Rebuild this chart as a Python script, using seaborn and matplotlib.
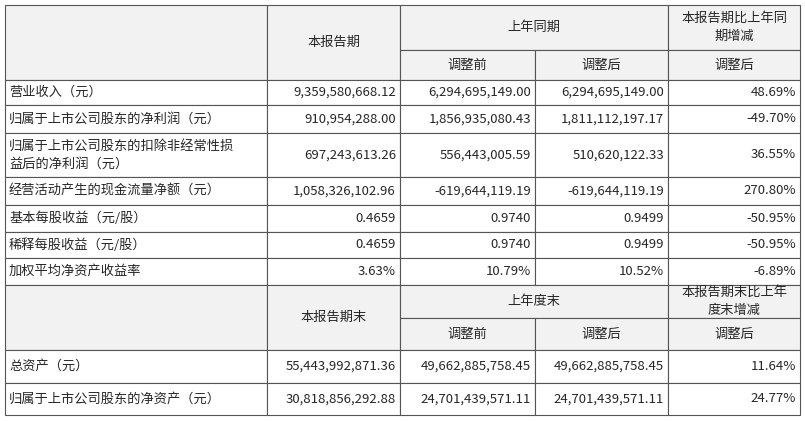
import matplotlib.pyplot as plt
import seaborn as sns
from matplotlib.patches import Rectangle

sns.set_theme(style="white", font="Noto Sans CJK SC")

row_labels = ["营业收入（元）", "归属于上市公司股东的净利润（元）",
              "归属于上市公司股东的扣除非经常性损\n益后的净利润（元）",
              "经营活动产生的现金流量净额（元）", "基本每股收益（元/股）",
              "稀释每股收益（元/股）", "加权平均净资产收益率"]
current = ["9,359,580,668.12", "910,954,288.00", "697,243,613.26", "1,058,326,102.96",
           "0.4659", "0.4659", "3.63%"]
prev_before = ["6,294,695,149.00", "1,856,935,080.43", "556,443,005.59", "-619,644,119.19",
               "0.9740", "0.9740", "10.79%"]
prev_after = ["6,294,695,149.00", "1,811,112,197.17", "510,620,122.33", "-619,644,119.19",
              "0.9499", "0.9499", "10.52%"]
change = ["48.69%", "-49.70%", "36.55%", "270.80%", "-50.95%", "-50.95%", "-6.89%"]

row_labels2 = ["总资产（元）", "归属于上市公司股东的净资产（元）"]
current2 = ["55,443,992,871.36", "30,818,856,292.88"]
prev_before2 = ["49,662,885,758.45", "24,701,439,571.11"]
prev_after2 = ["49,662,885,758.45", "24,701,439,571.11"]
change2 = ["11.64%", "24.77%"]

xs = [5, 267, 400, 535, 668, 800]
rows1 = [80, 105, 133, 177, 205, 232, 258, 285]
rows2 = [350, 383, 415]
gray = "#f2f2f2"
fs = 9.5

fig = plt.figure(figsize=(8.05, 4.21), dpi=100)
ax = fig.add_axes([0, 0, 1, 1])
ax.set_xlim(0, 805)
ax.set_ylim(421, 0)
ax.axis("off")


def cell(x0, y0, x1, y1, text="", align="center", fill="white"):
    ax.add_patch(Rectangle((x0, y0), x1 - x0, y1 - y0, facecolor=fill,
                           edgecolor="#555555", lw=0.8))
    if not text:
        return
    if align == "left":
        ax.text(x0 + 4, (y0 + y1) / 2, text, ha="left", va="center", fontsize=fs, linespacing=1.5)
    elif align == "right":
        ax.text(x1 - 4, (y0 + y1) / 2, text, ha="right", va="center", fontsize=fs)
    else:
        ax.text((x0 + x1) / 2, (y0 + y1) / 2, text, ha="center", va="center", fontsize=fs, linespacing=1.5)


def header(y0, ym, y1, t1, t2, t3):
    cell(xs[0], y0, xs[1], y1, fill=gray)
    cell(xs[1], y0, xs[2], y1, t1, fill=gray)
    cell(xs[2], y0, xs[4], ym, t2, fill=gray)
    cell(xs[2], ym, xs[3], y1, "调整前", fill=gray)
    cell(xs[3], ym, xs[4], y1, "调整后", fill=gray)
    cell(xs[4], y0, xs[5], ym, t3, fill=gray)
    cell(xs[4], ym, xs[5], y1, "调整后", fill=gray)


def body(ys, labels, cols):
    for i, lab in enumerate(labels):
        y0, y1 = ys[i], ys[i + 1]
        cell(xs[0], y0, xs[1], y1, lab, align="left")
        for j, col in enumerate(cols):
            cell(xs[j + 1], y0, xs[j + 2], y1, col[i], align="right")


header(5, 50, 80, "本报告期", "上年同期", "本报告期比上年同\n期增减")
body(rows1, row_labels, [current, prev_before, prev_after, change])
header(285, 318, 350, "本报告期末", "上年度末", "本报告期末比上年\n度末增减")
body(rows2, row_labels2, [current2, prev_before2, prev_after2, change2])

fig.savefig("out.png", dpi=100, facecolor="white")
